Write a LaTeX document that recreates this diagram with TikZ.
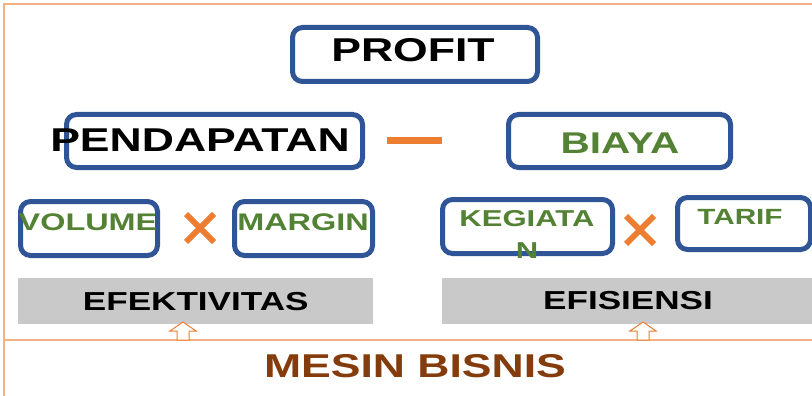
\documentclass[tikz,border=0pt]{standalone}
\usepackage{fontspec}
\setmainfont{Liberation Sans}[FakeStretch=1.35]
\definecolor{boxblue}{HTML}{2F5597}
\definecolor{leafgreen}{HTML}{548235}
\definecolor{signorange}{HTML}{ED7D31}
\definecolor{framepeach}{HTML}{F4B183}
\definecolor{basebrown}{HTML}{843C0C}
\definecolor{bargrey}{HTML}{C9C9C9}
\begin{document}
\begin{tikzpicture}[
	x=1pt, y=-1pt,
	box/.style={
		draw=boxblue, line width=5pt, rounded corners=10pt,
		inner sep=0pt, fill=white
	},
	bar/.style={fill=bargrey, inner sep=0pt, anchor=north west},
	word/.style={inner sep=0pt, font=\bfseries, align=center},
	cross/.style={signorange, line width=6pt},
	uparrow/.style={draw=signorange, fill=white, line width=1pt}
	]
	\useasboundingbox (0,0) rectangle (812,396);
	
	% frame of the page
	\draw[framepeach, line width=1.5pt] (4,396) -- (4,4) -- (812,4);
	\draw[framepeach, line width=1.5pt] (4,340) -- (812,340);
	
	% top: profit = pendapatan - biaya
	\node[box, minimum width=245pt, minimum height=54pt] (profitbox) at (415,54.5) {};
	\node[word, font=\bfseries\fontsize{33}{33}\selectfont] (profit) at (413,50) {PROFIT};
	
	\node[box, minimum width=296pt, minimum height=53pt] (pendbox) at (214.5,141) {};
	\node[word, font=\bfseries\fontsize{33}{33}\selectfont] (pend) at (200,140) {PENDAPATAN};
	
	\node[fill=signorange, minimum width=55pt, minimum height=7pt, inner sep=0pt] (minus) at (414.5,140) {};
	
	\node[box, minimum width=222pt, minimum height=53pt] (biayabox) at (619.5,141) {};
	\node[word, leafgreen, font=\bfseries\fontsize{30}{30}\selectfont] (biaya) at (620,143) {BIAYA};
	
	% middle: volume x margin, kegiatan x tarif
	\node[box, minimum width=137pt, minimum height=54pt] (volbox) at (89,228.5) {};
	\node[word, leafgreen, font=\bfseries\fontsize{24}{24}\selectfont] (vol) at (88,222) {VOLUME};
	
	\node[box, minimum width=138pt, minimum height=54pt] (marbox) at (303.5,228.5) {};
	\node[word, leafgreen, font=\bfseries\fontsize{24}{24}\selectfont] (mar) at (303,222) {MARGIN};
	
	\node[box, minimum width=170pt, minimum height=54pt] (kegbox) at (527.5,226.5) {};
	\node[word, leafgreen, font=\bfseries\fontsize{23}{32}\selectfont] (keg) at (527,234) {KEGIATA\\N};
	
	\node[box, minimum width=133pt, minimum height=52pt] (tarbox) at (744,223.5) {};
	\node[word, leafgreen, font=\bfseries\fontsize{22}{22}\selectfont] (tar) at (740,217) {TARIF};
	
	\foreach \cx/\cy in {200/228, 640/230}
		\draw[cross] (\cx-14,\cy-14) -- (\cx+14,\cy+14) (\cx-14,\cy+14) -- (\cx+14,\cy-14);
	
	% bottom: grey bars and base
	\node[bar, minimum width=355pt, minimum height=46pt] (efekbar) at (18,278) {};
	\node[word, font=\bfseries\fontsize{26}{26}\selectfont] (efek) at (efekbar.center) {EFEKTIVITAS};
	
	\node[bar, minimum width=372pt, minimum height=46pt] (efisbar) at (442,278) {};
	\node[word, font=\bfseries\fontsize{26}{26}\selectfont] (efis) at (628,301) {EFISIENSI};
	
	\foreach \ax in {183, 643}
		\draw[uparrow] (\ax-6,340) -- (\ax-6,331) -- (\ax-13,331) -- (\ax,322)
			-- (\ax+13,331) -- (\ax+6,331) -- (\ax+6,340) -- cycle;
	
	\node[word, basebrown, font=\bfseries\fontsize{33}{33}\selectfont] (mesin) at (415,366) {MESIN BISNIS};
	
\end{tikzpicture}
\end{document}
